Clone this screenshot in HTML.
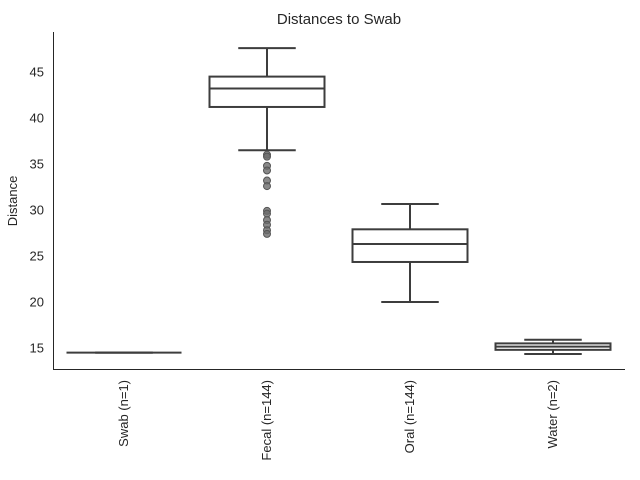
<!DOCTYPE html>
<html><head><meta charset="utf-8"><style>
body{margin:0;background:#fff;}
svg{display:block;font-family:"Liberation Sans","DejaVu Sans",sans-serif;}
</style></head><body>
<svg id="chart" width="640" height="480">
<text x="339" y="24" text-anchor="middle" font-size="15" fill="#262626">Distances to Swab</text>
<text x="17" y="201" text-anchor="middle" font-size="13" fill="#262626" transform="rotate(-90 17 201)">Distance</text>
<g id="yticks"></g>
<g id="xticks"></g>
<g id="boxes"></g>
<line x1="53.5" y1="32" x2="53.5" y2="369" stroke="#262626" stroke-width="1"/>
<line x1="53" y1="369.5" x2="625" y2="369.5" stroke="#262626" stroke-width="1"/>
</svg>
<script>
const categories = ["Swab (n=1)","Fecal (n=144)","Oral (n=144)","Water (n=2)"];
const whiskerLow = [14.5, 36.5, 20.0, 14.35];
const q1 = [14.5, 41.2, 24.35, 14.8];
const median = [14.5, 43.2, 26.3, 15.15];
const q3 = [14.5, 44.5, 27.9, 15.5];
const whiskerHigh = [14.5, 47.6, 30.65, 15.9];
const outliers = [[], [36.0,35.8,34.8,34.3,33.2,32.6,29.9,29.6,28.9,28.4,27.8,27.4], [], []];
const yTicks = [15,20,25,30,35,40,45];

const ns="http://www.w3.org/2000/svg";
const y = v => 348 - (v-15)*9.2;
const xc = i => 124 + i*143;
const BW = 115;
function mk(tag, attrs, parent){const e=document.createElementNS(ns,tag);for(const k in attrs)e.setAttribute(k,attrs[k]);parent.appendChild(e);return e;}
const yt=document.getElementById('yticks'), xt=document.getElementById('xticks'), bx=document.getElementById('boxes');
yTicks.forEach(t=>{
  const e=mk('text',{x:44,y:y(t)+4.5,'text-anchor':'end','font-size':13,fill:'#262626'},yt);
  
  
  e.textContent=t;
});
categories.forEach((c,i)=>{
  const cx=xc(i);
  const e=mk('text',{x:0,y:0,'text-anchor':'end','font-size':13,fill:'#262626',transform:`translate(${cx+4},380) rotate(-90)`},xt);
  
  
  e.textContent=c;
  const g=mk('g',{stroke:'#3d3d3d','stroke-width':2,fill:'none'},bx);
  
  
  mk('line',{x1:cx,x2:cx,y1:y(whiskerHigh[i]),y2:y(q3[i])},g);
  mk('line',{x1:cx,x2:cx,y1:y(q1[i]),y2:y(whiskerLow[i])},g);
  mk('line',{x1:cx-BW/4,x2:cx+BW/4,y1:y(whiskerHigh[i]),y2:y(whiskerHigh[i])},g);
  mk('line',{x1:cx-BW/4,x2:cx+BW/4,y1:y(whiskerLow[i]),y2:y(whiskerLow[i])},g);
  mk('rect',{x:cx-BW/2,y:y(q3[i]),width:BW,height:Math.max(0,y(q1[i])-y(q3[i])),fill:'#fff'},g);
  mk('line',{x1:cx-BW/2,x2:cx+BW/2,y1:y(median[i]),y2:y(median[i])},g);
  outliers[i].forEach(v=>{
    const p=mk('circle',{cx:cx,cy:y(v),r:3.5,fill:'#6b6b6b','fill-opacity':0.8,stroke:'#555','stroke-width':1},g);
    
    
  });
});
</script>
</body></html>
